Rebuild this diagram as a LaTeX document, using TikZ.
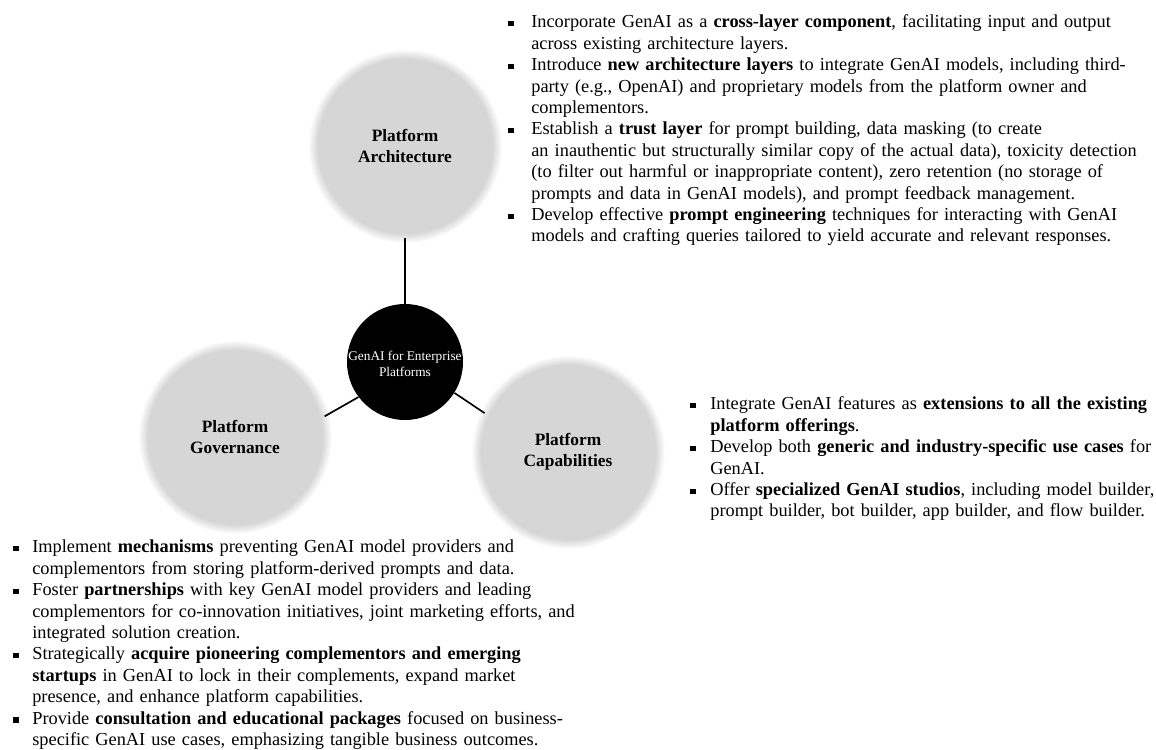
\documentclass[tikz,border=0pt]{standalone}
\usepackage{fontspec}
\setmainfont{Liberation Serif}

\definecolor{blobgray}{RGB}{214,214,214}
\pgfdeclareradialshading{blob}{\pgfpointorigin}{color(0bp)=(blobgray); color(22.5bp)=(blobgray); color(25bp)=(white); color(50bp)=(white)}
\newcommand{\sqbul}{\rule[0.9pt]{3.2pt}{3.2pt}}
\newenvironment{sqlist}[1]{\begin{list}{\sqbul\hfill}{\setlength\leftmargin{#1}\setlength\labelwidth{#1}\setlength\labelsep{0pt}\setlength\itemsep{0pt}\setlength\parsep{0pt}\setlength\topsep{0pt}\setlength\partopsep{0pt}}}{\end{list}}

\begin{document}
\begin{tikzpicture}[x=0.6pt,y=-0.6pt,
	area/.style={circle,shade,shading=blob,minimum size=116.4pt,inner sep=0pt,outer sep=-3pt,align=center,font=\fontsize{10.4pt}{12.85pt}\selectfont\bfseries},
	hub/.style={circle,fill=black,minimum size=69.6pt,inner sep=0pt},
	notes/.style={inner sep=0pt,align=left,anchor=north west,font=\fontsize{11pt}{12.85pt}\selectfont},
	link/.style={line width=1pt}]
	\useasboundingbox (0,0) rectangle (1156,749);
	\node[area] (arch) at (405,146) {Platform\\Architecture};
	\node[area] (gov) at (235,437) {Platform\\Governance};
	\node[area] (cap) at (568,452) {Platform\\Capabilities};
	\node[hub,label={[text=white,align=center,yshift=-1pt,font=\fontsize{8pt}{9.6pt}\selectfont]center:GenAI for Enterprise\\Platforms}] (core) at (405,362) {};
	\draw[link] (core.north) -- (arch.south);
	\draw[link] (core.217) -- (gov.13);
	\draw[link] (core.-32) -- (cap.155);
	\node[notes,text width=400pt] (archtxt) at (508,6) {\begin{sqlist}{13.8pt}
		\item Incorporate GenAI as a \textbf{cross-layer component}, facilitating input and output\newline across existing architecture layers.
		\item Introduce \textbf{new architecture layers} to integrate GenAI models, including third-\newline party (e.g., OpenAI) and proprietary models from the platform owner and\newline complementors.
		\item Establish a \textbf{trust layer} for prompt building, data masking (to create\newline an inauthentic but structurally similar copy of the actual data), toxicity detection\newline (to filter out harmful or inappropriate content), zero retention (no storage of\newline prompts and data in GenAI models), and prompt feedback management.
		\item Develop effective \textbf{prompt engineering} techniques for interacting with GenAI\newline models and crafting queries tailored to yield accurate and relevant responses.
	\end{sqlist}};
	\node[notes,text width=290pt] (captxt) at (690,388) {\begin{sqlist}{12pt}
		\item Integrate GenAI features as \textbf{extensions to all the existing}\newline \textbf{platform offerings}.
		\item Develop both \textbf{generic and industry-specific use cases} for\newline GenAI.
		\item Offer \textbf{specialized GenAI studios}, including model builder,\newline prompt builder, bot builder, app builder, and flow builder.
	\end{sqlist}};
	\node[notes,text width=360pt] (govtxt) at (13,531) {\begin{sqlist}{11.4pt}
		\item Implement \textbf{mechanisms} preventing GenAI model providers and\newline complementors from storing platform-derived prompts and data.
		\item Foster \textbf{partnerships} with key GenAI model providers and leading\newline complementors for co-innovation initiatives, joint marketing efforts, and\newline integrated solution creation.
		\item Strategically \textbf{acquire pioneering complementors and emerging}\newline \textbf{startups} in GenAI to lock in their complements, expand market\newline presence, and enhance platform capabilities.
		\item Provide \textbf{consultation and educational packages} focused on business-\newline specific GenAI use cases, emphasizing tangible business outcomes.
	\end{sqlist}};
\end{tikzpicture}
\end{document}
